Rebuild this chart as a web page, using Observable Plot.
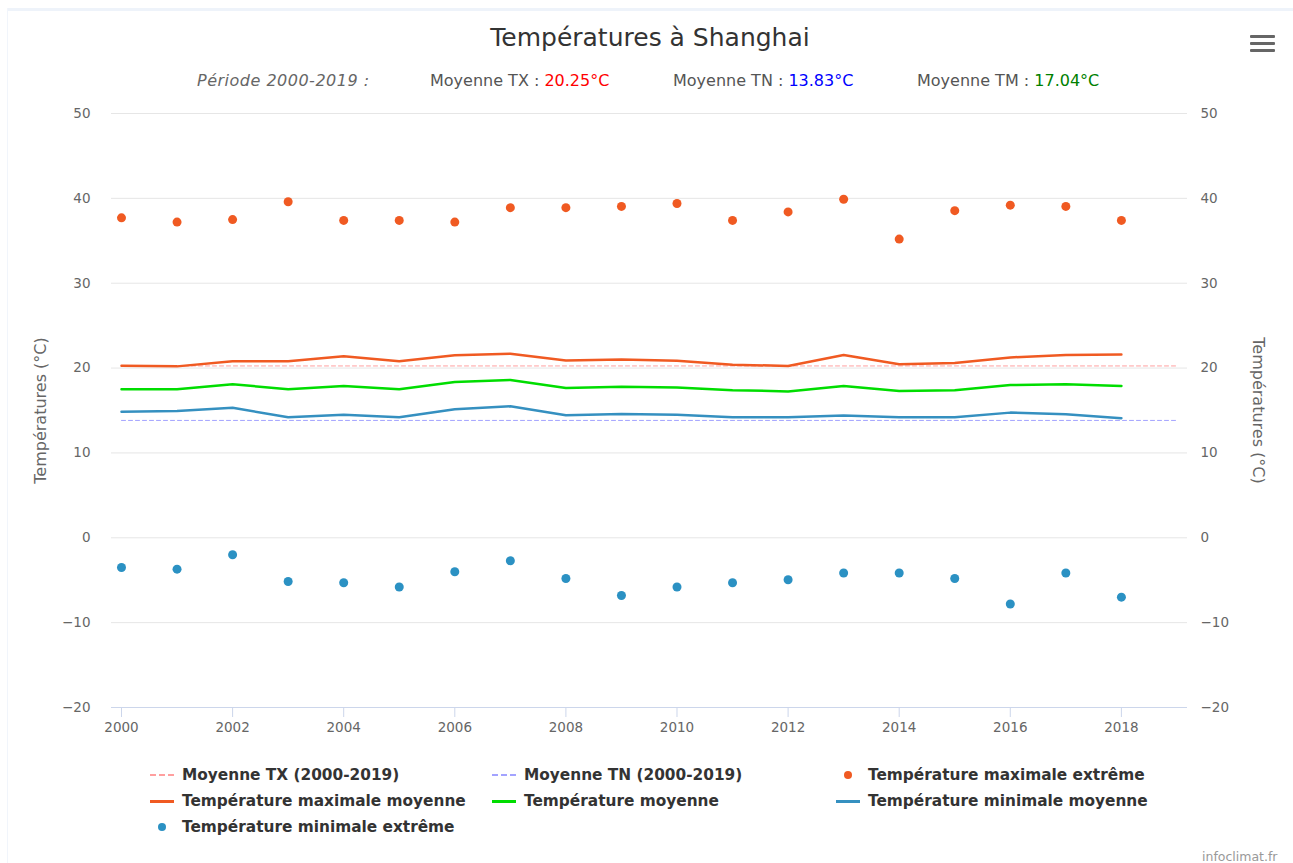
<!DOCTYPE html>
<html>
<head>
<meta charset="utf-8">
<script src="https://cdn.jsdelivr.net/npm/d3@7"></script>
<script src="https://cdn.jsdelivr.net/npm/@observablehq/plot@0.6"></script>
<style>
  body { margin: 0; background: #ffffff; font-family: "DejaVu Sans", sans-serif; }
  #root { position: relative; width: 1293px; height: 863px; overflow: hidden; background: #fff; }
  #topband { position: absolute; left: 8px; top: 8px; width: 1285px; height: 3px; background: #eef3fa; }
  #leftband { position: absolute; left: 7px; top: 8px; width: 1px; height: 855px; background: #f1f5fb; }
  #title { position: absolute; left: 0; width: 1300px; top: 23px; text-align: center; font-size: 25px; color: #333; line-height: 30px; }
  .sub { position: absolute; top: 71px; font-size: 16px; line-height: 19px; color: #555; white-space: nowrap; }
  #chart { position: absolute; left: 0; top: 100px; }
  .leg { position: absolute; font-size: 15.35px; font-weight: bold; color: #333; white-space: nowrap; line-height: 18px; }
  .sym { position: absolute; }
  #menu { position: absolute; left: 1250px; top: 35px; width: 25px; }
  #menu div { height: 3px; background: #666; border-radius: 1px; margin-bottom: 4px; }
  #credit { position: absolute; left: 1202px; top: 849px; font-size: 12.5px; color: #999; }
</style>
</head>
<body>
<div id="root">
  <div id="topband"></div>
  <div id="leftband"></div>
  <div id="title">Températures à Shanghai</div>
  <div id="subs"></div>
  <div id="menu"><div></div><div></div><div></div></div>
  <div id="chart"></div>
  <div id="legend"></div>
  <div id="credit">infoclimat.fr</div>
</div>
<script>
// ---------- Data ----------
const years = [2000,2001,2002,2003,2004,2005,2006,2007,2008,2009,2010,2011,2012,2013,2014,2015,2016,2017,2018];
const txExtreme = [37.7,37.2,37.5,39.6,37.4,37.4,37.2,38.9,38.9,39.05,39.4,37.4,38.4,39.9,35.2,38.55,39.2,39.05,37.4];
const txMean    = [20.27,20.2,20.8,20.8,21.4,20.8,21.5,21.7,20.9,21.0,20.85,20.4,20.25,21.55,20.45,20.6,21.25,21.55,21.6];
const tmMean    = [17.5,17.5,18.1,17.5,17.9,17.5,18.35,18.6,17.65,17.8,17.7,17.4,17.25,17.9,17.3,17.4,18.0,18.1,17.9];
const tnMean    = [14.86,14.94,15.33,14.2,14.5,14.2,15.14,15.5,14.43,14.6,14.5,14.2,14.2,14.4,14.2,14.2,14.75,14.55,14.1];
const tnExtreme = [-3.5,-3.7,-2.0,-5.15,-5.3,-5.8,-4.0,-2.7,-4.8,-6.8,-5.8,-5.3,-4.95,-4.15,-4.15,-4.8,-7.8,-4.15,-7.0];

const periodYears = [2000, 2019];
const periodMeanTX = 20.25;
const periodMeanTN = 13.83;
const periodMeanTM = 17.04;

const yTicks = [-20,-10,0,10,20,30,40,50];
const xTicks = [2000,2002,2004,2006,2008,2010,2012,2014,2016,2018];

const seriesNames = [
  "Moyenne TX (2000-2019)",
  "Moyenne TN (2000-2019)",
  "Température maximale extrême",
  "Température maximale moyenne",
  "Température moyenne",
  "Température minimale moyenne",
  "Température minimale extrême"
];
const seriesColors = ["#ff9f9f","#a3a3ff","#f05a22","#f05a22","#00dd00","#3590c0","#2b91c3"];
const seriesKinds = ["dash","dash","dot","line","line","line","dot"];

// ---------- Header subtitle ----------
const subs = document.getElementById("subs");
const subItems = [
  {left:197, html:'<i style="color:#666;letter-spacing:0.5px">Période 2000-2019 :</i>'},
  {left:430, html:'Moyenne TX : <span style="color:#ff0000">' + periodMeanTX.toFixed(2) + '°C</span>'},
  {left:673, html:'Moyenne TN : <span style="color:#0000ff">' + periodMeanTN.toFixed(2) + '°C</span>'},
  {left:917, html:'Moyenne TM : <span style="color:#008000">' + periodMeanTM.toFixed(2) + '°C</span>'}
];
for (const s of subItems) {
  const d = document.createElement("div");
  d.className = "sub";
  d.style.left = s.left + "px";
  d.innerHTML = s.html;
  subs.appendChild(d);
}

// ---------- Chart ----------
const rows = (vals) => years.map((y, i) => ({year: y, v: vals[i]}));
const periodRows = (m) => periodYears.map(y => ({year: y, v: m}));
const minusFmt = d => d < 0 ? "\u2212" + Math.abs(d) : String(d);

const chart = Plot.plot({
  width: 1293,
  height: 660,
  marginTop: 13,
  marginBottom: 53,
  marginLeft: 111,
  marginRight: 106,
  style: {fontFamily: "DejaVu Sans, sans-serif", background: "transparent", overflow: "visible"},
  x: {domain: [1999.82, 2019.19]},
  y: {domain: [-20, 50]},
  marks: [
    Plot.gridY(yTicks.filter(t => t > -20), {stroke: "#e6e6e6", strokeOpacity: 1}),
    Plot.ruleY([-20], {stroke: "#ccd6eb"}),
    Plot.axisY(yTicks, {anchor: "left", tickSize: 0, tickPadding: 21, fontSize: 13.5, fill: "#666", tickFormat: minusFmt, label: null}),
    Plot.axisY(yTicks, {anchor: "right", tickSize: 0, tickPadding: 13, fontSize: 13.5, fill: "#666", tickFormat: minusFmt, label: null}),
    Plot.axisX(xTicks, {anchor: "bottom", tickSize: 10, tickPadding: 5, stroke: "#ccd6eb", fill: "#666", fontSize: 13.5, tickFormat: d => String(d), label: null}),
    Plot.text(["Températures (°C)"], {frameAnchor: "left", textAnchor: "middle", dx: -71, rotate: -90, fontSize: 16, fill: "#666"}),
    Plot.text(["Températures (°C)"], {frameAnchor: "right", textAnchor: "middle", dx: 71, rotate: 90, fontSize: 16, fill: "#666"}),
    Plot.line(periodRows(periodMeanTX), {x: "year", y: "v", stroke: seriesColors[0], strokeWidth: 1, strokeDasharray: "4,3"}),
    Plot.line(periodRows(periodMeanTN), {x: "year", y: "v", stroke: seriesColors[1], strokeWidth: 1, strokeDasharray: "4,3"}),
    Plot.line(rows(txMean), {x: "year", y: "v", stroke: seriesColors[3], strokeWidth: 2.5}),
    Plot.line(rows(tmMean), {x: "year", y: "v", stroke: seriesColors[4], strokeWidth: 2.5}),
    Plot.line(rows(tnMean), {x: "year", y: "v", stroke: seriesColors[5], strokeWidth: 2.5}),
    Plot.dot(rows(txExtreme), {x: "year", y: "v", r: 4.5, fill: seriesColors[2], stroke: "none"}),
    Plot.dot(rows(tnExtreme), {x: "year", y: "v", r: 4.5, fill: seriesColors[6], stroke: "none"})
  ]
});
document.getElementById("chart").appendChild(chart);

// ---------- Legend ----------
const legend = document.getElementById("legend");
const colX = [150, 492, 836];
const rowY = [775, 801, 827];
seriesNames.forEach((name, i) => {
  const cx = colX[i % 3], cy = rowY[Math.floor(i / 3)];
  const kind = seriesKinds[i], col = seriesColors[i];
  const sym = document.createElement("div");
  sym.className = "sym";
  if (kind === "dot") {
    sym.style.cssText = `left:${cx + 8}px;top:${cy - 4}px;width:8px;height:8px;border-radius:50%;background:${col};`;
  } else if (kind === "line") {
    sym.style.cssText = `left:${cx}px;top:${cy - 1}px;width:24px;height:3px;background:${col};`;
  } else {
    sym.style.cssText = `left:${cx}px;top:${cy - 1}px;width:24px;height:0;border-top:2px dashed ${col};`;
  }
  legend.appendChild(sym);
  const t = document.createElement("div");
  t.className = "leg";
  t.style.left = (cx + 32) + "px";
  t.style.top = (cy - 9) + "px";
  t.textContent = name;
  legend.appendChild(t);
});
</script>
</body>
</html>
